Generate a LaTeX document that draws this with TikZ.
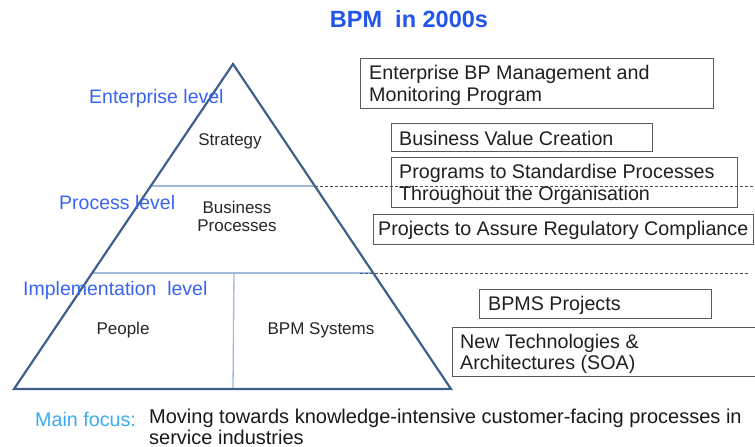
\documentclass[tikz,border=0pt]{standalone}
\usepackage{fontspec}
\setmainfont{Liberation Sans}
\definecolor{titleblue}{RGB}{35,85,235}
\definecolor{lvlblue}{RGB}{55,100,245}
\definecolor{focusblue}{RGB}{60,170,240}
\definecolor{triblue}{RGB}{65,95,140}
\definecolor{divblue}{RGB}{160,185,220}
\definecolor{boxgray}{RGB}{90,90,90}
\begin{document}
\begin{tikzpicture}[x=1pt,y=-1pt,
  tri/.style={draw=triblue, line width=2.2pt, line join=miter},
  divline/.style={draw=divblue, line width=1.3pt},
  sepline/.style={draw=black!70, line width=0.8pt, dash pattern=on 3pt off 2pt},
  boxnode/.style={draw=boxgray, line width=1.2pt, anchor=north west, inner sep=0pt},
  boxtext/.style={anchor=west, inner sep=0pt, align=left, text=black!88, font=\fontsize{19.7}{21.5}\selectfont},
  lvl/.style={anchor=west, inner sep=0pt, text=lvlblue, font=\fontsize{19.5}{22}\selectfont},
  inlabel/.style={inner sep=0pt, align=center, text=black!85, font=\fontsize{17}{18}\selectfont}]
\clip (0,0) rectangle (755,447);
\useasboundingbox (0,0) rectangle (755,447);

% title
\node[text=titleblue, font=\fontsize{23.5}{26}\selectfont\bfseries] (title) at (409,19) {BPM\ \ in 2000s};

% pyramid
\coordinate (apex) at (233,64);
\coordinate (bl) at (14,389);
\coordinate (br) at (451,389);
\coordinate (l1a) at (151,186);
\coordinate (l1b) at (315,186);
\coordinate (l2a) at (92,273);
\coordinate (l2b) at (374,273);
\coordinate (vt) at (234,273);
\coordinate (vb) at (233,389);
\coordinate (d1a) at (315,186);
\coordinate (d1b) at (755,186);
\coordinate (d2a) at (360,273);
\coordinate (d2b) at (750,273);

\draw[divline] (l1a) -- (l1b);
\draw[divline] (l2a) -- (l2b);
\draw[divline] (vt) -- (vb);
\draw[sepline] (d1a) -- (d1b);
\draw[sepline] (d2a) -- (d2b);
\draw[tri] (apex) -- (br) -- (bl) -- cycle;

% level labels
\node[lvl] (ent) at (89,98) {Enterprise level};
\node[lvl] (proc) at (59,203) {Process level};
\node[lvl] (impl) at (23,290) {Implementation\ \ level};

% inner labels
\node[inlabel] (strat) at (230,141) {Strategy};
\node[inlabel] (bproc) at (237,216) {Business\\Processes};
\node[inlabel] (people) at (123,330) {People};
\node[inlabel] (bpms) at (321,330) {BPM Systems};

% right boxes
\node[boxnode, minimum width=353pt, minimum height=50pt] (b1) at (360,58) {};
\node[boxtext] (t1) at ([xshift=9pt,yshift=-2pt]b1.west) {Enterprise BP Management and\\Monitoring Program};
\node[boxnode, minimum width=261pt, minimum height=28pt] (b2) at (391,123) {};
\node[boxtext] (t2) at ([xshift=8pt,yshift=-1pt]b2.west) {Business Value Creation};
\node[boxnode, minimum width=346pt, minimum height=50pt] (b3) at (391,157) {};
\node[boxtext] (t3) at ([xshift=8pt,yshift=-2pt]b3.west) {Programs to Standardise Processes\\Throughout the Organisation};
\node[boxnode, minimum width=380pt, minimum height=30pt] (b4) at (373,214) {};
\node[boxtext] (t4) at ([xshift=5pt,yshift=-1pt]b4.west) {Projects to Assure Regulatory Compliance};
\node[boxnode, minimum width=232pt, minimum height=29pt] (b5) at (479,289) {};
\node[boxtext] (t5) at ([xshift=9pt,yshift=-1pt]b5.west) {BPMS Projects};
\node[boxnode, minimum width=320pt, minimum height=49pt] (b6) at (452,327) {};
\node[boxtext] (t6) at ([xshift=8pt,yshift=-2pt]b6.west) {New Technologies \&\\Architectures (SOA)};

% main focus
\node[anchor=west, inner sep=0pt, text=focusblue, font=\fontsize{19.7}{20}\selectfont] (mf) at (35,419) {Main focus:};
\node[anchor=north west, inner sep=0pt, align=left, text=black!90, font=\fontsize{20}{20.5}\selectfont] (mft) at (149,409) {Moving towards knowledge-intensive customer-facing processes in\\ service industries};
\end{tikzpicture}
\end{document}
